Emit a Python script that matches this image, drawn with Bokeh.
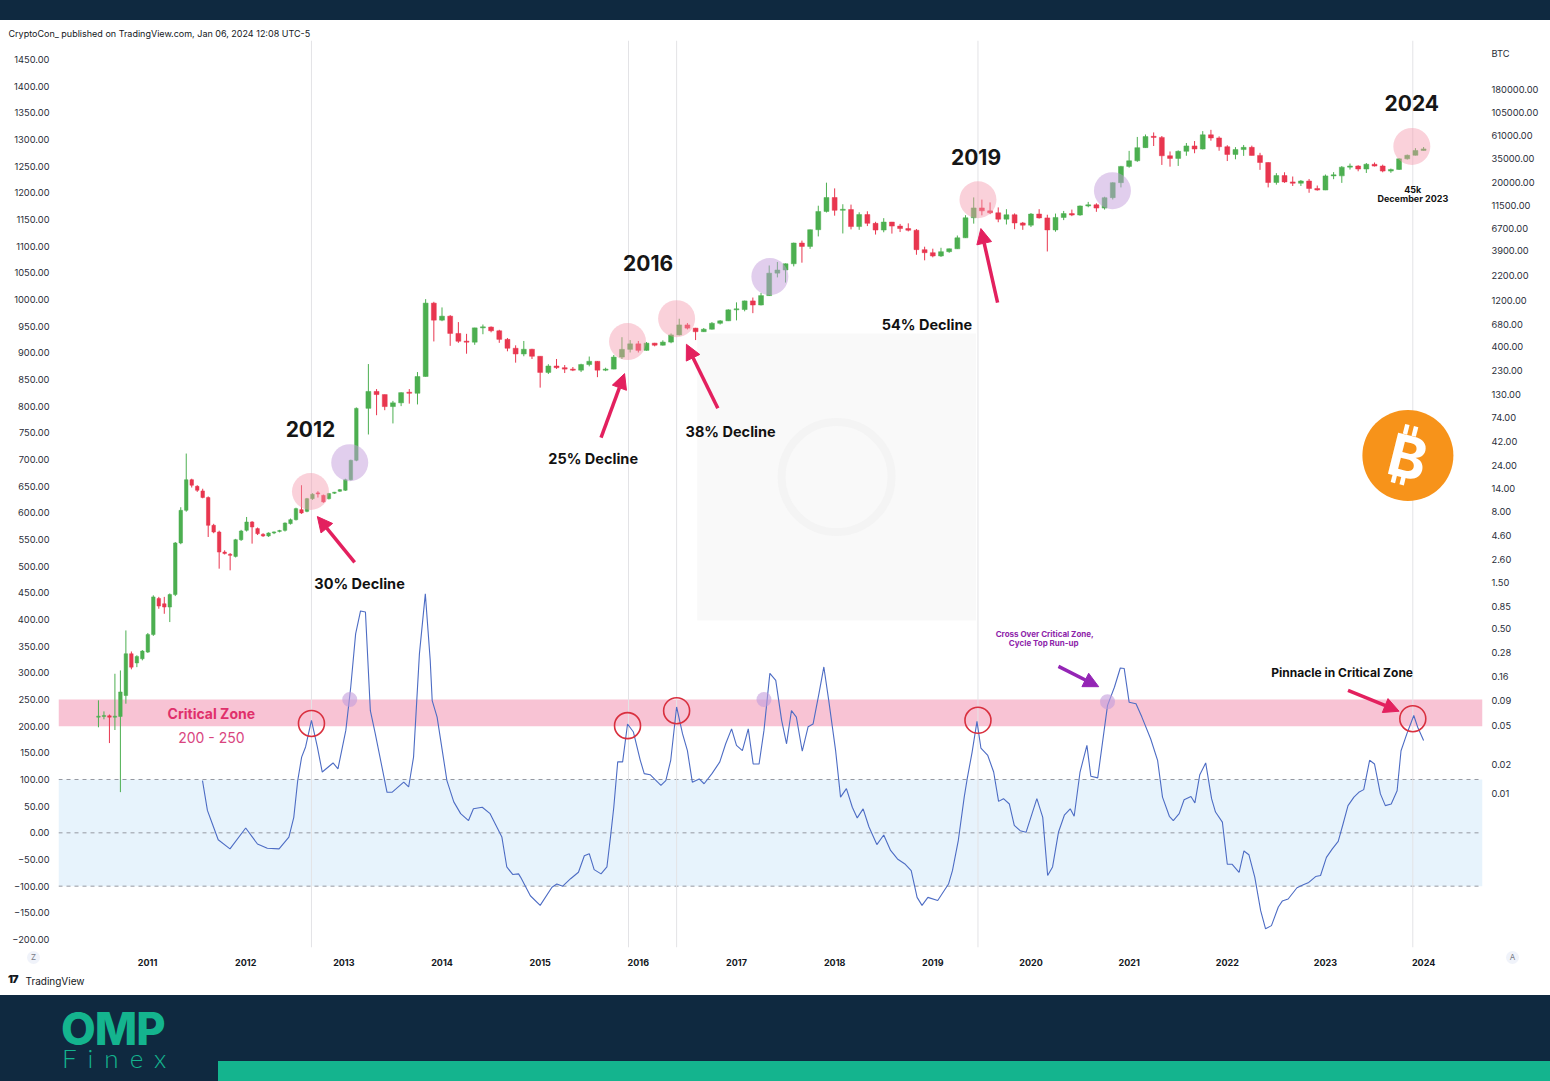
import math
from bokeh.plotting import figure
from bokeh.models import (Range1d, LogScale, LogAxis, FixedTicker, CustomJSTickFormatter,
                          BoxAnnotation, Span, Label, Arrow, NormalHead, ColumnDataSource, Title, Div)
from bokeh.layouts import column
from bokeh.embed import file_html
from bokeh.resources import INLINE

# ---------------- data ----------------
# early candles (~3 week bars)
early_start = 2010.50
early_step = 0.0559
early_open = [0.061, 0.062, 0.063, 0.061, 0.062, 0.102, 0.275, 0.221, 0.244, 0.286, 0.433, 1.02,
              0.90, 0.833, 1.12, 3.81, 8.27, 17.1, 14.6, 13.1, 11.2, 5.79, 4.94, 3.07,
              2.90, 2.77, 4.12, 5.14, 6.27, 5.36, 4.68, 4.50, 4.83, 5.00, 5.14, 6.03,
              6.62, 8.40, 8.07, 10.9, 12.3, 11.8, 10.9, 12.4, 13.0, 13.3, 17.1, 27.1]
early_high = [0.091, 0.070, 0.065, 0.171, 0.185, 0.478, 0.290, 0.265, 0.300, 0.450, 1.10, 1.06,
              1.06, 1.15, 3.90, 8.90, 31.8, 17.5, 15.0, 13.8, 11.5, 6.0, 5.1, 3.2,
              3.0, 4.2, 5.2, 7.06, 6.4, 5.5, 4.8, 4.9, 5.0, 5.2, 6.2, 6.8,
              8.8, 15.0, 11.1, 12.4, 13.0, 12.0, 12.5, 12.8, 13.7, 17.5, 27.5, 95.0]
early_low = [0.048, 0.058, 0.033, 0.045, 0.0103, 0.084, 0.190, 0.200, 0.235, 0.280, 0.420, 0.80,
             0.71, 0.583, 1.08, 3.70, 8.0, 14.2, 12.8, 11.0, 4.39, 4.8, 2.07, 2.9,
             1.99, 2.7, 4.0, 5.0, 3.75, 4.6, 4.4, 4.4, 4.7, 4.9, 5.0, 5.9,
             6.5, 7.6, 7.9, 10.6, 11.2, 9.9, 10.7, 12.2, 12.8, 13.1, 16.8, 26.5]
early_close = [0.062, 0.063, 0.061, 0.062, 0.111, 0.275, 0.200, 0.258, 0.293, 0.433, 1.06, 0.853,
               0.833, 1.12, 3.81, 8.27, 17.1, 15.0, 13.3, 11.2, 5.79, 4.94, 3.07, 2.96,
               2.84, 4.12, 5.06, 6.27, 5.57, 4.75, 4.50, 4.83, 4.95, 5.10, 6.12, 6.62,
               8.61, 7.76, 10.9, 12.1, 12.2, 10.1, 12.3, 12.6, 13.5, 17.1, 27.1, 93.0]

# monthly candles from Apr 2013
month_start = 2013.25
m_open = [93, 139, 129, 97, 106, 135, 133, 198, 1130,
          754, 829, 550, 457, 447, 628, 640, 586, 478, 387, 338, 378,
          320, 218, 254, 244, 236, 230, 263, 284, 230, 236, 314, 377,
          430, 368, 437, 416, 448, 531, 673, 624, 573, 608, 700, 742,
          963, 970, 1190, 1080, 1350, 2300, 2480, 2875, 4700, 4340, 6450, 9950,
          13850, 10220, 10400, 6950, 9240, 7500, 6400, 7730, 7030, 6630, 6370, 4020,
          3740, 3460, 3830, 4100, 5320, 8570, 10820, 10090, 9630, 8290, 9200, 7570,
          7190, 9350, 8540, 6420, 8630, 9450, 9140, 11330, 11650, 10780, 13800, 19700,
          28990, 33100, 45240, 58800, 57700, 37300, 35040, 41460, 47100, 43790, 61300, 56900,
          46200, 38480, 43190, 45540, 37630, 31790, 19780, 23300, 20050, 19430, 20490, 17170,
          16540, 23140, 23150, 28480, 29250, 27220, 30480, 29230, 25940, 26970, 34650, 37720,
          42280]
m_high = [266, 147, 129, 111, 136, 147, 220, 1242, 1165,
          1020, 850, 720, 545, 630, 680, 650, 600, 494, 415, 460, 382,
          320, 265, 300, 260, 248, 268, 318, 286, 244, 330, 503, 470,
          460, 448, 440, 467, 550, 780, 704, 628, 626, 720, 755, 975,
          1150, 1200, 1290, 1440, 2760, 3000, 2900, 4750, 4980, 6470, 11400, 19700,
          17200, 11800, 11700, 9750, 9990, 7780, 8480, 7760, 7400, 7500, 6560, 4310,
          4110, 4200, 4130, 5620, 9100, 13880, 13180, 12330, 10950, 10500, 9500, 7750,
          9580, 10500, 9200, 9460, 10070, 10400, 11450, 12480, 12070, 14100, 19900, 29300,
          41900, 58300, 61800, 64900, 59600, 41300, 42400, 50500, 52900, 67000, 69000, 59100,
          47900, 45800, 48200, 47400, 40000, 31900, 24700, 25200, 22800, 20990, 21500, 18400,
          23900, 25300, 29200, 31000, 29800, 31400, 31800, 30200, 27500, 35200, 38400, 44700,
          45900]
m_low = [50, 79, 89, 65, 98, 104, 102, 197, 455,
         736, 410, 440, 340, 420, 540, 565, 440, 360, 275, 320, 300,
         152, 210, 237, 215, 225, 220, 252, 195, 225, 235, 300, 350,
         350, 365, 405, 412, 436, 525, 605, 470, 569, 603, 680, 738,
         750, 930, 890, 1070, 1340, 2080, 1840, 2700, 2950, 4100, 5500, 9700,
         9000, 5900, 6500, 6430, 7030, 5750, 6070, 5880, 6100, 6200, 3560, 3120,
         3350, 3380, 3730, 4080, 5300, 7450, 9070, 9330, 7700, 7300, 6530, 6430,
         6870, 8400, 3850, 6150, 8100, 8900, 8970, 10990, 9860, 10400, 13200, 17600,
         28100, 32300, 45000, 47000, 30000, 28800, 29300, 37300, 39600, 43300, 53300, 42000,
         32900, 34300, 37200, 37700, 26700, 17600, 18800, 19600, 18200, 18200, 15500, 16300,
         16500, 21400, 19600, 26900, 25800, 24800, 28900, 25200, 24900, 26600, 34100, 37600,
         42200]
m_close = [139, 129, 97, 106, 135, 133, 198, 1130, 754,
           829, 550, 457, 447, 628, 640, 586, 478, 387, 338, 378, 320,
           218, 254, 244, 236, 230, 263, 284, 230, 236, 314, 377, 430,
           368, 437, 416, 448, 531, 673, 624, 573, 608, 700, 742, 963,
           970, 1190, 1080, 1350, 2300, 2480, 2875, 4700, 4340, 6450, 9950, 13850,
           10220, 10400, 6950, 9240, 7500, 6400, 7730, 7030, 6630, 6370, 4020, 3740,
           3460, 3830, 4100, 5320, 8570, 10820, 10090, 9630, 8290, 9200, 7570, 7190,
           9350, 8540, 6420, 8630, 9450, 9140, 11330, 11650, 10780, 13800, 19700, 28990,
           33100, 45240, 58800, 57700, 37300, 35040, 41460, 47100, 43790, 61300, 56900, 46200,
           38480, 43190, 45540, 37630, 31790, 19780, 23300, 20050, 19430, 20490, 17170, 16540,
           23140, 23150, 28480, 29250, 27220, 30480, 29230, 25940, 26970, 34650, 37720, 42280,
           43900]

# oscillator
osc_date = [2011.56, 2011.61, 2011.66, 2011.72, 2011.84,
            2012.00, 2012.12, 2012.22, 2012.34, 2012.44, 2012.49, 2012.53, 2012.57, 2012.61, 2012.67, 2012.73, 2012.78, 2012.89, 2012.94,
            2013.02, 2013.07, 2013.12, 2013.17, 2013.22, 2013.27, 2013.32, 2013.44, 2013.49, 2013.61, 2013.66, 2013.71, 2013.77, 2013.83, 2013.88, 2013.90, 2013.95,
            2014.05, 2014.12, 2014.19, 2014.27, 2014.32, 2014.41, 2014.49, 2014.61, 2014.66, 2014.72, 2014.78,
            2014.80, 2014.90,
            2015.00, 2015.12, 2015.17, 2015.23, 2015.31, 2015.39, 2015.45, 2015.50, 2015.55, 2015.62, 2015.68, 2015.72, 2015.75, 2015.79, 2015.84, 2015.89, 2015.95,
            2016.02, 2016.06, 2016.12, 2016.23, 2016.28, 2016.33, 2016.39, 2016.45, 2016.50, 2016.55, 2016.62, 2016.67, 2016.75, 2016.83, 2016.89, 2016.95,
            2017.00, 2017.06, 2017.12, 2017.17, 2017.23, 2017.28, 2017.34, 2017.40, 2017.46, 2017.51, 2017.56, 2017.61, 2017.67, 2017.73, 2017.78, 2017.84, 2017.89, 2017.94,
            2018.01, 2018.06, 2018.12, 2018.18, 2018.23,
            2018.29, 2018.35, 2018.43, 2018.50, 2018.57, 2018.64, 2018.72, 2018.78, 2018.84, 2018.89, 2018.95,
            2019.05, 2019.16, 2019.20, 2019.26, 2019.32, 2019.35, 2019.40, 2019.45, 2019.49, 2019.56, 2019.62, 2019.67, 2019.72, 2019.78, 2019.83, 2019.89, 2019.95,
            2020.06, 2020.12, 2020.17, 2020.22, 2020.28, 2020.34, 2020.40, 2020.44, 2020.50, 2020.57, 2020.61, 2020.68, 2020.78, 2020.85, 2020.91, 2020.95,
            2021.00, 2021.07, 2021.13, 2021.22, 2021.29, 2021.34, 2021.41, 2021.45, 2021.51, 2021.56,
            2021.63, 2021.67, 2021.72, 2021.78, 2021.84, 2021.88, 2021.95,
            2022.00, 2022.05, 2022.12, 2022.17, 2022.22, 2022.28, 2022.34, 2022.39, 2022.45, 2022.52, 2022.56, 2022.62, 2022.71, 2022.78, 2022.83, 2022.90, 2022.95,
            2023.01, 2023.07, 2023.13, 2023.18, 2023.23, 2023.29, 2023.34, 2023.39, 2023.45, 2023.50, 2023.56, 2023.61, 2023.67, 2023.73, 2023.77, 2023.83, 2023.90, 2023.94,
            2024.00]
osc_val = [98, 42, 17, -13, -30,
           9, -21, -29, -30, -8, 29, 98, 142, 161, 211, 161, 114, 131, 120,
           192, 273, 373, 416, 414, 229, 186, 76, 76, 95, 86, 142, 336, 448, 323, 248, 217,
           98, 58, 36, 23, 45, 48, 36, -8, -64, -78, -77,
           -83, -118,
           -136, -102, -96, -100, -86, -74, -43, -39, -69, -77, -64, -2, 48, 133, 133, 204, 189,
           136, 111, 109, 89, 98, 136, 236, 186, 154, 95, 101, 92, 111, 133, 167, 195,
           164, 154, 195, 129, 129, 192, 299, 286, 211, 167, 229, 217, 153, 199, 204, 261, 311, 248,
           154, 67, 83, 48, 28,
           45, 11, -22, -4, -33, -49, -59, -71, -121, -136, -121,
           -127, -96, -71, -14, 67, 101, 151, 209, 159, 145, 114, 59, 64, 54, 14, 4, 1,
           64, 29, -80, -64, 1, 33, 45, 31, 114, 164, 106, 103, 239, 273, 309, 308,
           245, 242, 217, 176, 136, 67, 31, 23, 36, 62,
           68, 56, 109, 131, 64, 39, 20,
           -59, -59, -74, -34, -41, -83, -146, -180, -174, -139, -128, -124, -103, -97, -93, -82, -80,
           -46, -30, -16, 17, 51, 67, 76, 81, 136, 129, 73, 51, 54, 79, 154, 186, 220, 198,
           173]

left_ticks = list(range(-200, 1451, 50))
price_ticks = [425000, 180000, 105000, 61000, 35000, 20000, 11500, 6700, 3900, 2200, 1200, 680, 400,
               230, 130, 74, 42, 24, 14, 8, 4.6, 2.6, 1.5, 0.85, 0.5, 0.28, 0.16, 0.09, 0.05, 0.02, 0.01]
year_ticks = list(range(2011, 2025))

critical_zone = (200, 250)
neutral_zone = (-100, 100)
marker_dates = [2012.67, 2015.90, 2016.39, 2019.46, 2023.89]

# ---------------- styling ----------------
NAVY = "#0f2940"
TEAL = "#14b48e"
UP = "#4caf50"
DOWN = "#e8364f"
FONT = "Inter"

X0, X1 = 2010.093, 2024.6
Y0, Y1 = -215.0, 1485.6
FRAME_W, FRAME_H = 1424, 907
DXPP = (X1 - X0) / FRAME_W
DYPP = (Y1 - Y0) / FRAME_H

# ---------------- top bar ----------------
top = Div(text="", width=1550, height=20, margin=0, styles={"background-color": NAVY})

# ---------------- main chart ----------------
p = figure(width=1550, height=975, x_range=Range1d(X0, X1), y_range=Range1d(Y0, Y1),
           toolbar_location=None, output_backend="svg", margin=0,
           min_border_left=58, min_border_right=68, min_border_top=20, min_border_bottom=48,
           background_fill_color="white", border_fill_color="white", outline_line_color=None)
p.extra_y_ranges = {"price": Range1d(2.58e-4, 5.75e5)}
p.extra_y_scales = {"price": LogScale()}
p.grid.visible = False

p.title.text = "CryptoCon_ published on TradingView.com, Jan 06, 2024 12:08 UTC-5"
p.title.align = "left"
p.title.offset = -50
p.title.standoff = 3
p.title.text_font = FONT
p.title.text_font_size = "9px"
p.title.text_font_style = "normal"
p.title.text_color = "#131722"

p.add_layout(Title(text="TradingView", align="left", offset=-33, standoff=9, text_font=FONT,
                   text_font_size="10px", text_font_style="normal", text_color="#131722"), "below")

lax = p.left[0]
lax.ticker = FixedTicker(ticks=left_ticks)
lax.formatter = CustomJSTickFormatter(code="return (tick < 0 ? '\u2212' : '') + Math.abs(tick).toFixed(2);")
rax = LogAxis(y_range_name="price", ticker=FixedTicker(ticks=price_ticks),
              formatter=CustomJSTickFormatter(code="return tick > 300000 ? 'BTC' : tick.toFixed(2);"))
p.add_layout(rax, "right")
bax = p.below[0]
bax.ticker = FixedTicker(ticks=year_ticks)
bax.formatter = CustomJSTickFormatter(code="return tick.toFixed(0);")
for ax in (lax, rax, bax):
    ax.axis_line_color = None
    ax.major_tick_line_color = None
    ax.minor_tick_line_color = None
    ax.major_label_text_font = FONT
    ax.major_label_text_font_size = "9.3px"
    ax.major_label_text_color = "#2a2e39"
lax.major_label_standoff = 3
rax.major_label_standoff = 3
bax.major_label_standoff = 5
bax.major_label_text_font_size = "9px"
bax.major_label_text_font_style = "bold"
bax.major_label_text_color = "#131722"

# background zones
p.add_layout(BoxAnnotation(left=2016.60, right=2019.44, bottom=398, top=936,
                           fill_color="#f9f9f9", fill_alpha=1, line_color=None, level="underlay"))
p.add_layout(BoxAnnotation(bottom=neutral_zone[0], top=neutral_zone[1], fill_color="#e3f1fc",
                           fill_alpha=0.85, line_color=None, level="underlay"))
p.add_layout(BoxAnnotation(bottom=critical_zone[0], top=critical_zone[1], fill_color="#f8c3d4",
                           fill_alpha=1, line_color=None, level="underlay"))
for loc in (neutral_zone[1], 0, neutral_zone[0]):
    p.add_layout(Span(location=loc, dimension="width", line_color="#9598a1", line_dash="4 4",
                      line_width=1, level="underlay"))
for d in marker_dates:
    p.add_layout(Span(location=d, dimension="height", line_color="#e3e3e6", line_width=1,
                      level="underlay"))

# watermark
p.scatter([2018.02], [667], size=110, marker="circle", fill_color=None, line_color="#f4f4f4",
          line_width=8)

# candles
c_open = early_open + m_open
c_high = early_high + m_high
c_low = early_low + m_low
c_close = early_close + m_close
c_date = [early_start + i * early_step for i in range(len(early_open))] + \
         [month_start + i / 12 for i in range(len(m_open))]
c_width = [0.036] * len(early_open) + [0.05] * len(m_open)
c_top, c_bot, c_col = [], [], []
for o, c in zip(c_open, c_close):
    t, b = max(o, c), min(o, c)
    if t / b < 1.025:
        t = b * 1.025
    c_top.append(t)
    c_bot.append(b)
    c_col.append(UP if c >= o else DOWN)
src = ColumnDataSource(dict(x=c_date, o=c_open, h=c_high, l=c_low, c=c_close,
                            top=c_top, bot=c_bot, col=c_col, w=c_width))
p.segment(x0="x", y0="l", x1="x", y1="h", source=src, line_color="col", line_width=1,
          y_range_name="price")
p.vbar(x="x", width="w", top="top", bottom="bot", source=src, fill_color="col",
       line_color="col", line_width=0.5, y_range_name="price")

# oscillator
p.line(osc_date, osc_val, line_color="#4d6cc4", line_width=1.1)

# highlight circles (pink / purple)
p.scatter([2012.66, 2015.89, 2016.39, 2019.46, 2023.88], [640, 921, 964, 1187, 1287], size=37,
          marker="circle", fill_color="#f39aac", fill_alpha=0.45, line_color=None)
p.scatter([2013.06, 2017.34, 2020.83], [694, 1043, 1204], size=37,
          marker="circle", fill_color="#c39ddc", fill_alpha=0.5, line_color=None)
p.scatter([2012.67, 2015.89, 2016.39, 2019.46, 2023.89], [205, 201, 229, 211, 214], size=26,
          marker="circle", fill_color=None, line_color="#d9303f", line_width=1.6)
p.scatter([2013.06, 2017.28, 2020.78], [250, 250, 246], size=15,
          marker="circle", fill_color="#c39ddc", fill_alpha=0.6, line_color=None)

# arrows
ARROW = "#e3205e"
for xs, ys, xe, ye in [(2013.11, 507, 2012.73, 593), (2015.62, 741, 2015.86, 861),
                       (2016.81, 796, 2016.49, 916), (2019.66, 994, 2019.49, 1133),
                       (2023.23, 267, 2023.75, 228)]:
    p.add_layout(Arrow(end=NormalHead(size=15, fill_color=ARROW, line_color=ARROW),
                       x_start=xs, y_start=ys, x_end=xe, y_end=ye,
                       line_color=ARROW, line_width=3.5))
p.add_layout(Arrow(end=NormalHead(size=15, fill_color="#9425b5", line_color="#9425b5"),
                   x_start=2020.28, y_start=312, x_end=2020.69, y_end=274,
                   line_color="#9425b5", line_width=3.5))


def lab(x, y, text, size, color="#111111", bold=True, align="center", font=FONT, **kw):
    p.add_layout(Label(x=x, y=y, text=text, text_font=font, text_font_size=size,
                       text_color=color, text_font_style="bold" if bold else "normal",
                       text_align=align, text_baseline="middle", **kw))


# year labels
for x, y, t in [(2012.66, 758, "2012"), (2016.10, 1069, "2016"), (2019.44, 1268, "2019"),
                (2023.88, 1369, "2024")]:
    lab(x, y, t, "21px", "#161616")
for x, y, t in [(2013.16, 467, "30% Decline"), (2015.54, 702, "25% Decline"),
                (2016.94, 752, "38% Decline"), (2018.94, 953, "54% Decline")]:
    lab(x, y, t, "14.5px", "#111111")
lab(2023.89, 1206, "45k", "9px")
lab(2023.89, 1189, "December 2023", "9px")
lab(2023.17, 300, "Pinnacle in Critical Zone", "12px")
lab(2020.14, 372, "Cross Over Critical Zone,", "8px", "#8e24aa")
lab(2020.13, 355, "Cycle Top Run-up", "8px", "#8e24aa")
lab(2011.65, 224, "Critical Zone", "14px", "#e0306b")
lab(2011.65, 179, "200 - 250", "14px", "#d9457f", bold=False)

# bitcoin logo
BX, BY = 2023.84, 707.5
p.scatter([BX], [BY], size=91, marker="circle", fill_color="#f7931a", line_color=None)
th = math.radians(14)
lab(BX, BY - 1.5 * DYPP, "B", "58px", "white", angle=-th)
bar_x0, bar_y0, bar_x1, bar_y1 = [], [], [], []
for bx in (-8, 1):
    for ya, yb in ((-30, -20), (20, 30)):
        for lst_x, lst_y, yy in ((bar_x0, bar_y0, ya), (bar_x1, bar_y1, yb)):
            sx = bx * math.cos(th) - yy * math.sin(th)
            sy = bx * math.sin(th) + yy * math.cos(th)
            lst_x.append(BX + sx * DXPP)
            lst_y.append(BY - sy * DYPP)
p.segment(bar_x0, bar_y0, bar_x1, bar_y1, line_color="white", line_width=4.5)

# ---------------- bottom banner ----------------
btn = ('position:absolute;top:-44px;width:13px;height:13px;border-radius:7px;background:#f0f3fa;'
       'color:#787b86;font-family:Inter,sans-serif;font-size:8px;line-height:13px;text-align:center;')
banner_html = (
    '<div style="position:relative;width:1550px;height:86px;background:%s;overflow:visible;z-index:10;">'
    '<div style="%sleft:27px;">Z</div>'
    '<div style="%sleft:1506px;">A</div>'
    '<div style="position:absolute;left:8px;top:-21px;font-family:Inter,sans-serif;font-weight:900;'
    'font-size:11px;line-height:11px;color:#131722;letter-spacing:-1px;">17</div>'
    '<div style="position:absolute;left:61px;top:16px;font-family:Inter,sans-serif;font-weight:800;'
    'font-size:45px;line-height:36px;color:%s;letter-spacing:-1px;">OMP</div>'
    '<div style="position:absolute;left:62px;top:54px;font-family:Lato,sans-serif;font-weight:300;'
    'font-size:26px;line-height:19px;color:%s;letter-spacing:11px;">Finex</div>'
    '<div style="position:absolute;left:218px;top:66px;width:1332px;height:20px;background:%s;"></div>'
    '</div>' % (NAVY, btn, btn, TEAL, TEAL, TEAL))
bot = Div(text=banner_html, width=1550, height=86, margin=0,
          styles={"background-color": NAVY, "overflow": "visible"})

layout = column(top, p, bot, spacing=0)
open("out.html", "w").write(file_html(layout, INLINE))
